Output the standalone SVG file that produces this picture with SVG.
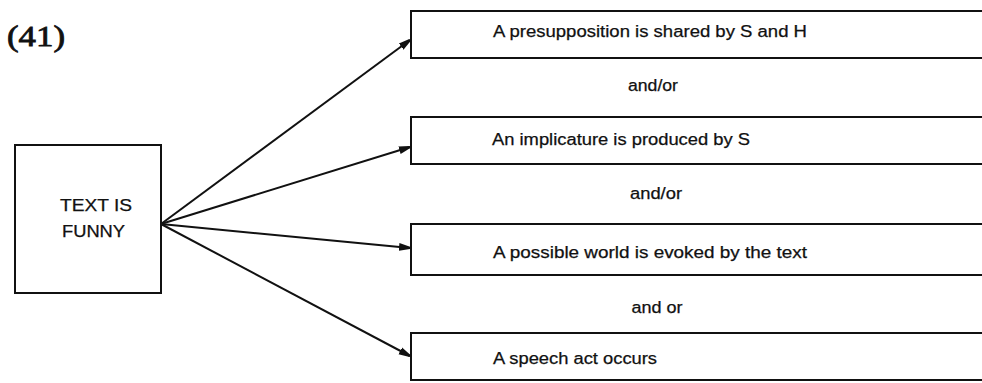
<svg xmlns="http://www.w3.org/2000/svg" width="982" height="383" viewBox="0 0 982 383">
  <style>
    .box { fill: #fff; stroke: #111; stroke-width: 2; }
    .lbl { font-family: "Liberation Sans", Arial, sans-serif; font-size: 16px; fill: #111; stroke: #111; stroke-width: 0.25; }
    .conn { stroke: #111; stroke-width: 2; fill: none; marker-end: url(#head); }
  </style>
  <defs>
    <marker id="head" viewBox="0 0 10 8" refX="10" refY="4" markerWidth="5.5" markerHeight="5" orient="auto" markerUnits="strokeWidth">
      <path d="M0,0.5 L10,3 L10,5 L0,7.5 Z" fill="#111"/>
    </marker>
  </defs>
  <rect width="982" height="383" fill="#fff"/>

  <text x="7" y="46" font-family="Liberation Serif, 'Times New Roman', serif" font-size="29" fill="#111" stroke="#111" stroke-width="0.8" textLength="58" lengthAdjust="spacingAndGlyphs">(41)</text>

  <g id="connectors">
    <line class="conn" x1="161" y1="224" x2="410" y2="40"/>
    <line class="conn" x1="161" y1="224" x2="410" y2="147"/>
    <line class="conn" x1="161" y1="224" x2="410" y2="248"/>
    <line class="conn" x1="161" y1="224" x2="410" y2="356"/>
  </g>

  <g id="text-is-funny">
    <rect class="box" x="15" y="145" width="146" height="148"/>
    <text class="lbl" x="60" y="211" textLength="72" lengthAdjust="spacingAndGlyphs">TEXT IS</text>
    <text class="lbl" x="62" y="237" textLength="63" lengthAdjust="spacingAndGlyphs">FUNNY</text>
  </g>

  <g id="presupposition">
    <rect class="box" x="411" y="11" width="600" height="47"/>
    <text class="lbl" x="493" y="37" textLength="314" lengthAdjust="spacingAndGlyphs">A presupposition is shared by S and H</text>
  </g>

  <text class="lbl" x="653" y="91" text-anchor="middle" textLength="50" lengthAdjust="spacingAndGlyphs">and/or</text>

  <g id="implicature">
    <rect class="box" x="411" y="117" width="600" height="47"/>
    <text class="lbl" x="492" y="145" textLength="258" lengthAdjust="spacingAndGlyphs">An implicature is produced by S</text>
  </g>

  <text class="lbl" x="656" y="199" text-anchor="middle" textLength="52" lengthAdjust="spacingAndGlyphs">and/or</text>

  <g id="possible-world">
    <rect class="box" x="411" y="224" width="600" height="51"/>
    <text class="lbl" x="493" y="258" textLength="314" lengthAdjust="spacingAndGlyphs">A possible world is evoked by the text</text>
  </g>

  <text class="lbl" x="657" y="313" text-anchor="middle" textLength="51" lengthAdjust="spacingAndGlyphs">and or</text>

  <g id="speech-act">
    <rect class="box" x="411" y="333" width="600" height="47"/>
    <text class="lbl" x="493" y="364" textLength="164" lengthAdjust="spacingAndGlyphs">A speech act occurs</text>
  </g>
</svg>
